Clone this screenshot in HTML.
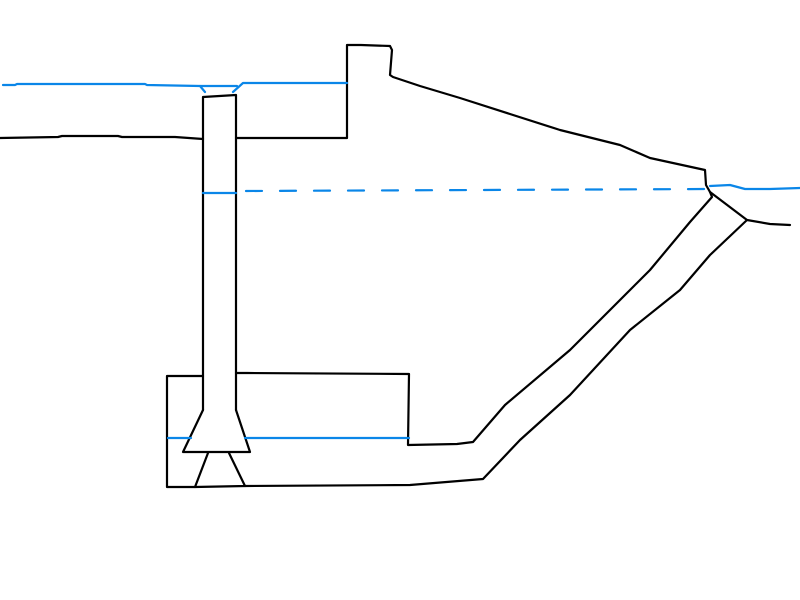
<!DOCTYPE html>
<html><head><meta charset="utf-8"><style>html,body{margin:0;padding:0;background:#fff}svg{display:block}</style></head>
<body>
<svg width="800" height="600" viewBox="0 0 800 600" xmlns="http://www.w3.org/2000/svg">
<g fill="none" stroke="#000" stroke-width="2.2" stroke-linejoin="round" stroke-linecap="round">
<polyline points="0,138 58,137 62,136 118,136 122,137 175,137 203,139"/>
<polyline points="203,410 203,97 236,95 236,410"/>
<polyline points="236,138 347,138 347,45 361,45 390,46 392,50 390,75 393,77 420,86 460,98 560,130 620,145 650,158 705,170 706,185 710,192 747,220 770,224 790,225"/>
<polyline points="710,192 712,197 690,222 650,270 620,300 570,350 505,405 473,442 457,444 408,445 409,374 247,373 236,373"/>
<polyline points="747,220 710,255 680,290 630,330 570,395 520,440 483,479 410,485 245,486"/>
<polyline points="203,376 167,376 167,487 195,487"/>
<polyline points="203,410 183,452 250,452 236,410"/>
<polyline points="208,453 195,487 245,486 229,453"/>
</g>
<g fill="none" stroke="#0a86e8" stroke-width="2.2" stroke-linecap="round" stroke-linejoin="round">
<polyline points="3,85 15,85 17,84 145,84 147,85 200,86 205,92"/>
<polyline points="200,86 237,86"/>
<polyline points="233,92 243,83 347,83"/>
<line x1="203" y1="193" x2="236" y2="193"/>
<line x1="246" y1="191" x2="710" y2="189" stroke-dasharray="16,18"/>
<polyline points="710,186 730,185 745,189 770,189 800,188"/>
<line x1="168" y1="438" x2="191" y2="438"/>
<line x1="245" y1="438" x2="409" y2="438"/>
</g>
</svg>
</body></html>
